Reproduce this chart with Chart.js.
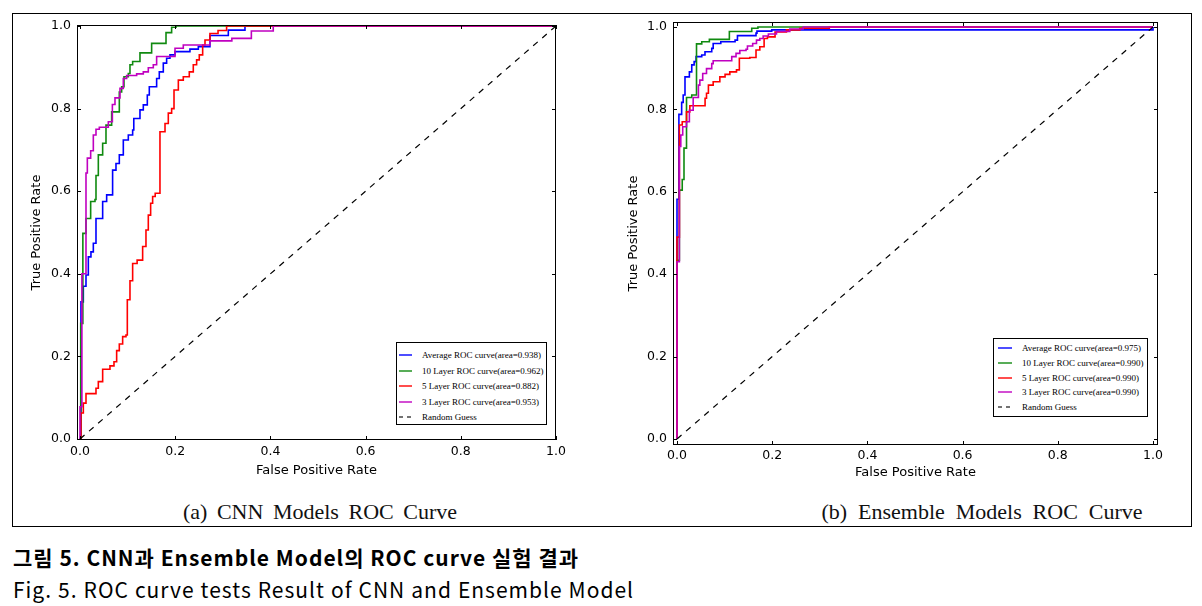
<!DOCTYPE html>
<html><head><meta charset="utf-8">
<script src="https://cdn.jsdelivr.net/npm/chart.js@4.4.1/dist/chart.umd.min.js"></script>
<style>
html,body{margin:0;padding:0;background:#fff;width:1202px;height:606px;overflow:hidden;position:relative;font-family:"DejaVu Sans",sans-serif}
#frame{position:absolute;left:12px;top:13px;width:1180px;height:514px;border:1px solid #000;box-sizing:border-box}
canvas{position:absolute;top:0}
#cA{left:0}
#cB{left:600px}
.cap{position:absolute;font-family:"Liberation Serif",serif;font-size:22px;line-height:26px;white-space:nowrap;transform:translateX(-50%);color:#111}
.legend{position:absolute;border:1px solid #000;background:#fff;box-sizing:border-box;font-family:"Liberation Serif",serif;font-size:9px;color:#000}
.row{position:absolute;left:0;height:12px;line-height:12px;white-space:nowrap}
.note{position:absolute;left:13px;font-family:"Noto Sans CJK KR","Noto Sans",sans-serif;white-space:nowrap;font-size:21px;line-height:25px;letter-spacing:1px;color:#000}
</style>
</head><body>
<div id="frame"></div>
<canvas id="cA" width="600" height="490"></canvas>
<canvas id="cB" width="602" height="490"></canvas>
<div id="legA" class="legend" style="left:396px;top:342px;width:151px;height:83px"></div>
<div id="legB" class="legend" style="left:993px;top:338px;width:155px;height:79px"></div>
<div class="cap" id="capA" style="left:320px;top:499px">(a) CNN Models ROC Curve</div>
<div class="cap" id="capB" style="left:982px;top:499px">(b) Ensemble Models ROC Curve</div>
<div class="note" id="noteKo" style="top:545px;font-weight:700">그림 5. CNN과 Ensemble Model의 ROC curve 실험 결과</div>
<div class="note" id="noteEn" style="top:577px">Fig. 5. ROC curve tests Result of CNN and Ensemble Model</div>
<script>
// ---------- data ----------
const tickValues = [0, 0.2, 0.4, 0.6, 0.8, 1.0];
const tickLabels = ['0.0', '0.2', '0.4', '0.6', '0.8', '1.0'];

const labelsA = ['Average ROC curve(area=0.938)', '10 Layer ROC curve(area=0.962)', '5 Layer ROC curve(area=0.882)', '3 Layer ROC curve(area=0.953)', 'Random Guess'];
const labelsB = ['Average ROC curve(area=0.975)', '10 Layer ROC curve(area=0.990)', '5 Layer ROC curve(area=0.990)', '3 Layer ROC curve(area=0.990)', 'Random Guess'];

const guessFpr = [0, 1];
const guessTpr = [0, 1];

// (a) CNN models
const cnnAvgFpr = [0, 0.002, 0.007, 0.0126, 0.0175, 0.023, 0.028, 0.0336, 0.0476, 0.056, 0.0685, 0.0756, 0.0826, 0.091, 0.1015, 0.1106, 0.113, 0.126, 0.133, 0.1414, 0.1456, 0.161, 0.1666, 0.175, 0.182, 0.189, 0.1996, 0.231, 0.2486, 0.273, 0.3116, 0.3466, 1.0];
const cnnAvgTpr = [0, 0.332, 0.37, 0.397, 0.441, 0.453, 0.474, 0.534, 0.575, 0.591, 0.651, 0.667, 0.688, 0.724, 0.736, 0.748, 0.776, 0.797, 0.809, 0.833, 0.853, 0.873, 0.889, 0.91, 0.922, 0.93, 0.938, 0.944, 0.95, 0.977, 0.99, 1.0, 1.0];

const cnn10Fpr = [0, 0.0015, 0.006, 0.0126, 0.0224, 0.0315, 0.0336, 0.0385, 0.0476, 0.0546, 0.0665, 0.0826, 0.0875, 0.0924, 0.1015, 0.105, 0.1106, 0.126, 0.1505, 0.1807, 0.1925, 0.2017, 1.0];
const cnn10Tpr = [0, 0.28, 0.498, 0.534, 0.575, 0.58, 0.638, 0.688, 0.716, 0.76, 0.792, 0.84, 0.853, 0.877, 0.885, 0.906, 0.914, 0.935, 0.958, 0.984, 0.997, 1.0, 1.0];

const cnn5Fpr = [0, 0.002, 0.007, 0.0126, 0.0336, 0.0385, 0.0476, 0.063, 0.0714, 0.077, 0.0826, 0.0896, 0.0966, 0.0994, 0.105, 0.1106, 0.12, 0.1316, 0.1386, 0.1435, 0.1484, 0.1526, 0.158, 0.168, 0.1786, 0.1855, 0.1925, 0.1975, 0.2066, 0.217, 0.2296, 0.238, 0.245, 0.2506, 0.2577, 0.2626, 0.273, 0.29, 0.308, 1.0];
const cnn5Tpr = [0, 0.063, 0.087, 0.11, 0.123, 0.139, 0.169, 0.177, 0.187, 0.214, 0.23, 0.248, 0.252, 0.337, 0.383, 0.425, 0.433, 0.466, 0.506, 0.542, 0.571, 0.587, 0.595, 0.744, 0.764, 0.789, 0.80, 0.845, 0.869, 0.877, 0.889, 0.906, 0.918, 0.93, 0.954, 0.966, 0.982, 0.989, 1.0, 1.0];

const cnn3Fpr = [0, 0, 0.004, 0.0126, 0.0154, 0.0224, 0.028, 0.0336, 0.0406, 0.0595, 0.068, 0.0735, 0.084, 0.091, 0.098, 0.119, 0.133, 0.1435, 0.154, 0.161, 0.1996, 0.217, 0.273, 0.319, 0.36, 0.406, 1.0];
const cnn3Tpr = [0, 0.078, 0.40, 0.644, 0.68, 0.698, 0.736, 0.75, 0.755, 0.768, 0.81, 0.826, 0.849, 0.873, 0.88, 0.884, 0.889, 0.899, 0.906, 0.926, 0.946, 0.954, 0.964, 0.970, 0.988, 1.0, 1.0];

// (b) Ensemble models
const ensAvgFpr = [0, 0, 0.004, 0.0098, 0.013, 0.0168, 0.026, 0.031, 0.036, 0.04, 0.052, 0.0588, 0.073, 0.076, 0.092, 0.122, 0.127, 0.166, 0.168, 0.199, 1.0];
const ensAvgTpr = [0, 0.582, 0.788, 0.817, 0.835, 0.879, 0.891, 0.908, 0.916, 0.928, 0.932, 0.94, 0.948, 0.96, 0.964, 0.968, 0.979, 0.985, 0.99, 0.993, 1.0];

const ens10Fpr = [0, 0, 0.005, 0.011, 0.0147, 0.02, 0.031, 0.041, 0.052, 0.068, 0.11, 0.157, 0.17, 1.0];
const ens10Tpr = [0, 0.434, 0.604, 0.63, 0.706, 0.829, 0.835, 0.959, 0.964, 0.970, 0.989, 0.997, 1.0, 1.0];

const ens5Fpr = [0, 0, 0.005, 0.011, 0.02, 0.027, 0.059, 0.062, 0.066, 0.076, 0.09, 0.101, 0.111, 0.125, 0.131, 0.153, 0.166, 0.174, 0.183, 0.19, 0.206, 0.23, 0.258, 0.32, 1.0];
const ens5Tpr = [0, 0.49, 0.762, 0.77, 0.794, 0.809, 0.827, 0.839, 0.859, 0.867, 0.879, 0.885, 0.891, 0.896, 0.924, 0.926, 0.944, 0.952, 0.972, 0.976, 0.988, 0.993, 0.997, 1.0, 1.0];

const ens3Fpr = [0, 0, 0.005, 0.008, 0.012, 0.02, 0.026, 0.034, 0.045, 0.048, 0.054, 0.062, 0.073, 0.076, 0.115, 0.124, 0.132, 0.145, 0.148, 0.159, 0.167, 0.174, 0.181, 0.192, 0.209, 0.237, 0.265, 1.0];
const ens3Tpr = [0, 0.43, 0.71, 0.738, 0.758, 0.77, 0.798, 0.829, 0.859, 0.871, 0.887, 0.899, 0.911, 0.918, 0.928, 0.936, 0.943, 0.946, 0.954, 0.96, 0.968, 0.972, 0.978, 0.983, 0.989, 0.995, 1.0, 1.0];

// ---------- style ----------
const COLORS = ['#0000ff', '#108a10', '#ff0000', '#c000c0'];
Chart.defaults.font.family = 'DejaVu Sans';
Chart.defaults.color = '#000';

function pts(f, t) { return f.map((v, i) => ({ x: v, y: t[i] })); }

const frameTicks = {
  id: 'frameTicks',
  afterDraw(chart) {
    const { ctx, chartArea: a, scales: { x, y } } = chart;
    ctx.save();
    ctx.strokeStyle = '#000';
    ctx.lineWidth = 1;
    ctx.strokeRect(Math.round(a.left) + 0.5, Math.round(a.top) + 0.5, Math.round(a.right - a.left) - 1, Math.round(a.bottom - a.top) - 1);
    const L = 4;
    ctx.beginPath();
    tickValues.forEach(v => {
      const px = Math.round(x.getPixelForValue(v)) + 0.5;
      ctx.moveTo(px, a.bottom); ctx.lineTo(px, a.bottom - L);
      ctx.moveTo(px, a.top); ctx.lineTo(px, a.top + L);
      const py = Math.round(y.getPixelForValue(v)) + 0.5;
      ctx.moveTo(a.left, py); ctx.lineTo(a.left + L, py);
      ctx.moveTo(a.right, py); ctx.lineTo(a.right - L, py);
    });
    ctx.stroke();
    ctx.restore();
  }
};

function makeChart(id, fprs, tprs, labels, g) {
  const ds = fprs.map((f, i) => ({
    label: labels[i], data: pts(f, tprs[i]), borderColor: COLORS[i], backgroundColor: COLORS[i],
    borderWidth: 1.6, pointRadius: 0, stepped: true, fill: false, order: 4 - i
  }));
  ds.push({ label: labels[4], data: pts(guessFpr, guessTpr), borderColor: '#000', backgroundColor: '#000',
    borderWidth: 1.2, borderDash: [6, 6], pointRadius: 0, fill: false, order: 0 });
  const tickFont = { family: 'DejaVu Sans', size: 12.5 };
  const titleFont = { family: 'DejaVu Sans', size: 13 };
  return new Chart(document.getElementById(id), {
    type: 'line',
    data: { datasets: ds },
    options: {
      responsive: false, animation: false, events: [],
      layout: { padding: { left: 0, top: g.top, right: g.right, bottom: 0 } },
      plugins: { legend: { display: false }, tooltip: { enabled: false } },
      scales: {
        x: {
          type: 'linear', min: g.xmin, max: g.xmax,
          afterBuildTicks: s => { s.ticks = tickValues.map(v => ({ value: v })); },
          afterFit: s => { s.height = g.xh; },
          grid: { display: false, drawTicks: false }, border: { display: false },
          ticks: { padding: g.xpad, font: tickFont, color: '#000', maxRotation: 0, autoSkip: false,
            callback: (v, i) => tickLabels[i] },
          title: { display: true, text: 'False Positive Rate', font: titleFont, color: '#000', padding: { top: 0, bottom: g.xtpad } }
        },
        y: {
          type: 'linear', min: g.ymin, max: g.ymax,
          afterBuildTicks: s => { s.ticks = tickValues.map(v => ({ value: v })); },
          afterFit: s => { s.width = g.yw; },
          grid: { display: false, drawTicks: false }, border: { display: false },
          ticks: { padding: 6, font: tickFont, color: '#000', autoSkip: false,
            callback: (v, i) => tickLabels[i] },
          title: { display: true, text: 'True Positive Rate', font: titleFont, color: '#000', padding: { top: g.ytpad, bottom: 0 } }
        }
      }
    },
    plugins: [frameTicks]
  });
}

const chartA = makeChart('cA',
  [cnnAvgFpr, cnn10Fpr, cnn5Fpr, cnn3Fpr], [cnnAvgTpr, cnn10Tpr, cnn5Tpr, cnn3Tpr], labelsA,
  { top: 25, right: 44, xh: 50, yw: 77, xmin: -0.0063, xmax: 1.0, ymin: -0.0024, ymax: 1.0024, xpad: 4, xtpad: 11.2, ytpad: 29.2 });
const chartB = makeChart('cB',
  [ensAvgFpr, ens10Fpr, ens5Fpr, ens3Fpr], [ensAvgTpr, ens10Tpr, ens5Tpr, ens3Tpr], labelsB,
  { top: 22, right: 44, xh: 45, yw: 73, xmin: -0.0084, xmax: 1.0105, ymin: -0.0146, ymax: 1.0121, xpad: 3, xtpad: 9.2, ytpad: 26.2 });

function buildLegend(divId, chart, y0, dy, swL, swW, txtL) {
  const div = document.getElementById(divId);
  chart.data.datasets.forEach((d, i) => {
    const row = document.createElement('div');
    row.className = 'row';
    row.style.top = (y0 + i * dy - 7) + 'px';
    row.style.width = '100%';
    const dash = d.borderDash ? 'stroke-dasharray="4,4"' : '';
    const col = d.borderDash ? '#444' : d.borderColor;
    row.innerHTML = '<svg width="' + swW + '" height="12" style="position:absolute;left:' + swL + 'px;top:0"><line x1="0" y1="6" x2="' + swW + '" y2="6" stroke="' + col + '" stroke-width="1.4" ' + dash + '/></svg>' +
      '<span style="position:absolute;left:' + txtL + 'px;top:0">' + d.label + '</span>';
    div.appendChild(row);
  });
}
buildLegend('legA', chartA, 13, 15.5, 2, 13, 25);
buildLegend('legB', chartB, 10, 14.75, 4, 14, 28);

function fitWidth(id, target) {
  const el = document.getElementById(id);
  const spaces = (el.textContent.match(/ /g) || []).length;
  let w = el.getBoundingClientRect().width;
  if (w > target) {
    const fs = parseFloat(getComputedStyle(el).fontSize);
    el.style.fontSize = (fs * target / w) + 'px';
    w = el.getBoundingClientRect().width;
  }
  if (spaces > 0) el.style.wordSpacing = ((target - w) / spaces) + 'px';
}
fitWidth('capA', 274);
fitWidth('capB', 321);
fitWidth('noteKo', 566);
fitWidth('noteEn', 621);
</script>
</body></html>
